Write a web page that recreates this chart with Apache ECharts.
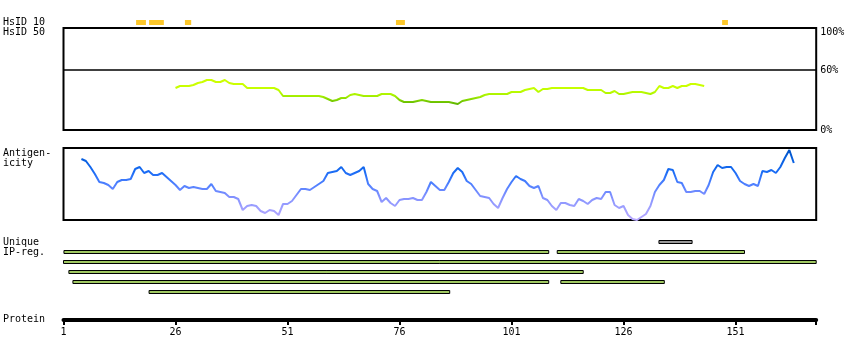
<!DOCTYPE html>
<html><head><meta charset="utf-8">
<script src="https://cdn.jsdelivr.net/npm/echarts@6/dist/echarts.min.js"></script>
<style>html,body{margin:0;padding:0;background:#fff}#c{width:850px;height:360px}</style>
</head><body><div id="c"></div>
<script>
// ---- data ----
const proteinLength = 169;
const tickValues = [1, 26, 51, 76, 101, 126, 151];

const hsid10Start = [17.2, 20.1, 28.1, 75.2, 148.0];
const hsid10End   = [19.4, 23.4, 29.5, 77.2, 149.3];

const hsid50Start = 26;
const hsid50 = [
  42,44,44,44,45,47,48,50,50,48,
  48,50,47,46,46,46,42,42,42,42,
  42,42,42,40,34,34,34,34,34,34,
  34,34,34,33,31,29,30,32,32,35,
  36,35,34,34,34,34,36,36,36,34,
  30,28,28,28,29,30,29,28,28,28,
  28,28,27,26,29,30,31,32,33,35,
  36,36,36,36,36,38,38,38,40,41,
  42,38,41,41,42,42,42,42,42,42,
  42,42,40,40,40,40,37,37,39,36,
  36,37,38,38,38,37,36,38,44,42,
  42,44,42,44,44,46,46,45,44
];

const antigenStart = 5;
const antigenicity = [
  61,59,53,46,38,37,35,31,38,40,
  40,41,51,53,47,49,45,45,47,43,
  39,35,30,34,32,33,32,31,31,36,
  29,28,27,23,23,21,10,14,15,14,
  9,7,10,9,5,16,16,19,25,31,
  31,30,33,36,39,47,48,49,53,47,
  45,47,49,53,36,31,29,18,22,17,
  14,20,21,21,22,20,20,28,38,34,
  30,30,38,47,52,48,39,36,30,24,
  23,22,16,12,22,31,38,44,41,39,
  34,32,34,22,20,14,10,17,17,15,
  14,21,19,16,20,22,21,28,28,15,
  12,14,5,1,0,3,6,14,28,35,
  40,51,50,38,37,28,28,29,29,26,
  35,48,55,52,53,53,47,39,36,34,
  36,34,49,48,50,47,53,62,70,57
];

const regionRow   = [0, 1, 1, 2, 3, 4, 4, 5];
const regionStart = [133.9, 1.1, 111.2, 1.0, 2.2, 3.1, 112.0, 20.1];
const regionEnd   = [141.3, 109.3, 153.0, 169.0, 117.0, 109.3, 135.1, 87.2];
const regionKind  = ['gray','green','green','green','green','green','green','green'];

// ---- build ----
const off = r => r - 1;
const hsid10Data = hsid10Start.map((s, i) => [off(s), off(hsid10End[i]), 0.5]);
const hsid50Data = hsid50.map((v, i) => [off(hsid50Start + i), v]);
const antigenData = antigenicity.map((v, i) => [off(antigenStart + i), v]);
const regionData = regionStart.map((s, i) => [off(s), off(regionEnd[i]), regionRow[i] + 0.5, regionKind[i] === 'gray' ? 1 : 0]);

const L = 63.5, R = 33.8;
const font = '"DejaVu Sans Mono", monospace';
const xBase = (gi, show) => ({
  type: 'value', gridIndex: gi, min: 0, max: proteinLength - 1, interval: 25,
  show: show, splitLine: {show: false}
});

const chart = echarts.init(document.getElementById('c'), null, {renderer: 'canvas'});
chart.setOption({
  animation: false,
  backgroundColor: '#fff',
  grid: [
    {left: L, right: R, top: 18, height: 10},
    {left: L, right: R, top: 28, height: 102, show: true, borderColor: '#000', borderWidth: 2, backgroundColor: 'transparent'},
    {left: L, right: R, top: 148, height: 72, show: true, borderColor: '#000', borderWidth: 2, backgroundColor: 'transparent'},
    {left: L, right: R, top: 237, height: 60},
    {left: L, right: R, top: 300, height: 20}
  ],
  xAxis: [
    xBase(0, false), xBase(1, false), xBase(2, false), xBase(3, false),
    Object.assign(xBase(4, true), {
      position: 'bottom',
      axisLine: {show: true, lineStyle: {color: '#000', width: 4}},
      axisTick: {show: true, length: 5, lineStyle: {color: '#000', width: 2}},
      axisLabel: {
        margin: 7, color: '#000', fontFamily: font, fontSize: 10,
        showMaxLabel: true,
        formatter: v => tickValues.indexOf(v + 1) >= 0 ? String(v + 1) : ''
      }
    })
  ],
  yAxis: [
    {type: 'value', gridIndex: 0, min: 0, max: 1, show: false},
    {type: 'value', gridIndex: 1, min: 0, max: 102, interval: 20, position: 'right',
      axisLine: {show: false}, axisTick: {show: false}, splitLine: {show: false},
      axisLabel: {margin: 4, color: '#000', fontFamily: font, fontSize: 10,
        rich: {top: {fontFamily: font, fontSize: 10, color: '#000', padding: [5, 0, 0, 0]}},
        formatter: v => v === 100 ? '{top|100%}' : ((v === 0 || v === 60) ? v + '%' : '')}},
    {type: 'value', gridIndex: 2, min: 0, max: 72, show: false},
    {type: 'value', gridIndex: 3, min: 0, max: 6, inverse: true, show: false},
    {type: 'value', gridIndex: 4, min: 0, max: 1, show: false}
  ],
  visualMap: [
    {type: 'continuous', show: false, seriesIndex: 1, dimension: 1, min: 26, max: 46,
      inRange: {color: ['#5fb500', '#80d400', '#a6f000', '#b8fa00', '#c6ff00', '#ccff00']}},
    {type: 'continuous', show: false, seriesIndex: 2, dimension: 1, min: 0, max: 72,
      inRange: {color: ['#b8a8ff', '#a0a0ff', '#7f90ff', '#4d7fff', '#1a6cf5', '#0860e0', '#0050c0']}}
  ],
  series: [
    {
      type: 'custom', xAxisIndex: 0, yAxisIndex: 0, data: hsid10Data,
      renderItem: (p, api) => {
        const s = api.coord([api.value(0), api.value(2)]);
        const e = api.coord([api.value(1), api.value(2)]);
        return {type: 'rect', shape: {x: s[0], y: s[1] - 3, width: e[0] - s[0], height: 5},
          style: {fill: '#fcc72a'}};
      }
    },
    {
      type: 'line', xAxisIndex: 1, yAxisIndex: 1, data: hsid50Data,
      showSymbol: false, smooth: false, lineStyle: {width: 2},
      markLine: {silent: true, symbol: 'none', label: {show: false},
        lineStyle: {color: '#000', width: 1.5, type: 'solid'}, data: [{yAxis: 60}]}
    },
    {
      type: 'line', xAxisIndex: 2, yAxisIndex: 2, data: antigenData,
      showSymbol: false, smooth: false, lineStyle: {width: 2}
    },
    {
      type: 'custom', xAxisIndex: 3, yAxisIndex: 3, data: regionData,
      renderItem: (p, api) => {
        const s = api.coord([api.value(0), api.value(2)]);
        const e = api.coord([api.value(1), api.value(2)]);
        const y = Math.round(s[1]) - 1.5;
        return {type: 'rect', shape: {x: s[0], y: y, width: e[0] - s[0], height: 3},
          style: {fill: api.value(3) ? '#999999' : '#a0c862', stroke: '#000', lineWidth: 1}};
      }
    }
  ],
  graphic: [
    {type: 'text', left: 3, top: 17, style: {text: 'HsID 10', font: '10px ' + font, fill: '#000'}},
    {type: 'text', left: 3, top: 27, style: {text: 'HsID 50', font: '10px ' + font, fill: '#000'}},
    {type: 'text', left: 3, top: 148, style: {text: 'Antigen-\nicity', font: '10px ' + font, fill: '#000', lineHeight: 10}},
    {type: 'text', left: 3, top: 237, style: {text: 'Unique\nIP-reg.', font: '10px ' + font, fill: '#000', lineHeight: 10}},
    {type: 'text', left: 3, top: 314, style: {text: 'Protein', font: '10px ' + font, fill: '#000'}}
  ]
});
</script></body></html>
